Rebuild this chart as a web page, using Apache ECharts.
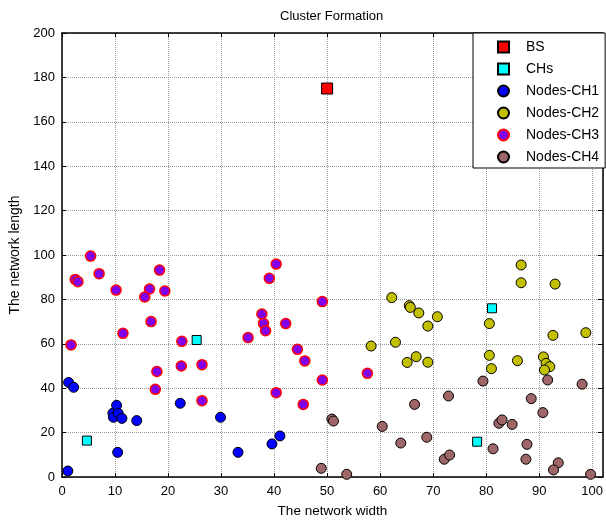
<!DOCTYPE html>
<html>
<head>
<meta charset="utf-8">
<script src="https://cdn.jsdelivr.net/npm/echarts@6/dist/echarts.min.js"></script>
<style>
html,body{margin:0;padding:0;background:#fff;}
#c{width:606px;height:523px;}
</style>
</head>
<body>
<div id="c"></div>
<script>
// ---- data ----
const titleText = 'Cluster Formation';
const xName = 'The network width';
const yName = 'The network length';
const seriesNames = ['BS', 'CHs', 'Nodes-CH1', 'Nodes-CH2', 'Nodes-CH3', 'Nodes-CH4'];

const bs = [[50, 175]];
const chs = [[4.7, 16.4], [25.4, 61.7], [81.1, 76.0], [78.3, 15.9]];
const nodesCH1 = [
  [1.1, 2.7], [1.25, 42.6], [2.2, 40.4], [9.6, 28.7], [9.7, 26.9], [10.3, 32.3],
  [10.6, 28.7], [11.3, 26.4], [10.5, 11.1], [14.1, 25.4], [22.3, 33.2], [29.9, 26.9],
  [33.2, 11.1], [39.6, 14.9], [41.1, 18.5]
];
const nodesCH2 = [
  [86.6, 95.5], [86.6, 87.5], [93.0, 86.9], [62.2, 80.8], [65.5, 77.2], [65.7, 76.4],
  [67.3, 73.9], [70.8, 72.2], [69.0, 68.0], [80.6, 69.1], [92.6, 63.8], [98.8, 65.0],
  [58.3, 59.0], [62.9, 60.7], [80.6, 54.8], [85.9, 52.4], [90.8, 54.1], [66.8, 54.2],
  [65.1, 51.6], [69.0, 51.7], [81.0, 48.8], [91.3, 51.2], [92.0, 49.7], [91.0, 48.2]
];
const nodesCH3 = [
  [5.4, 99.5], [2.5, 89.0], [3.0, 88.0], [7.0, 91.6], [10.2, 84.2], [18.4, 93.2],
  [16.5, 84.7], [15.6, 81.1], [19.4, 83.8], [16.8, 70.0], [11.5, 64.7], [1.7, 59.5],
  [22.6, 61.1], [17.9, 47.5], [22.5, 50.0], [26.4, 50.6], [17.6, 39.5], [26.4, 34.4],
  [40.4, 95.9], [39.1, 89.5], [49.1, 79.0], [37.7, 73.4], [38.0, 69.2], [38.4, 65.9],
  [42.2, 69.1], [35.1, 62.8], [44.4, 57.5], [45.8, 52.3], [49.1, 43.7], [57.6, 46.7],
  [40.4, 38.0], [45.5, 32.7]
];
const nodesCH4 = [
  [50.9, 26.1], [51.2, 25.2], [48.9, 3.9], [53.7, 1.2], [60.4, 22.8], [63.9, 15.3],
  [66.5, 32.7], [72.9, 36.5], [68.8, 17.9], [72.1, 8.0], [73.1, 9.9], [79.4, 43.2],
  [81.3, 12.7], [82.4, 24.2], [83.0, 25.7], [84.9, 23.7], [88.5, 35.3], [87.7, 14.7],
  [87.5, 8.0], [90.7, 29.0], [91.6, 43.7], [98.1, 41.8], [93.6, 6.4], [92.7, 3.2],
  [99.7, 1.2]
];
const xMin = 0, xMax = 102, xStep = 10;
const yMin = 0, yMax = 200, yStep = 20;

// ---- chart ----
const FONT = '"Liberation Sans", Arial, sans-serif';
const chart = echarts.init(document.getElementById('c'), null, {renderer: 'canvas'});

function sc(name, data, symbol, size, color, edge, edgeW, z) {
  return {
    name: name, type: 'scatter', data: data, symbol: symbol, symbolSize: size,
    xAxisIndex: 0, yAxisIndex: 0, z: z,
    itemStyle: {color: color, borderColor: edge, borderWidth: edgeW, opacity: 1},
    emphasis: {disabled: true}, animation: false
  };
}

const gridLine = {show: true, lineStyle: {color: '#9a9a9a', type: [1, 1], width: 1}};

chart.setOption({
  animation: false,
  backgroundColor: '#ffffff',
  textStyle: {fontFamily: FONT},
  graphic: [{
    type: 'text', left: 332 - 52, top: 10,
    style: {text: titleText, font: '13px ' + FONT, fill: '#000'}
  }],
  grid: {left: 60, right: 0, top: 33, bottom: 46, containLabel: false},
  xAxis: [{
    type: 'value', min: xMin, max: xMax, interval: xStep, position: 'bottom',
    name: xName, nameLocation: 'middle', nameGap: 27,
    nameTextStyle: {fontSize: 13.5, color: '#000', fontFamily: FONT},
    axisLine: {show: true, onZero: false, lineStyle: {color: '#000', width: 1.5}},
    axisTick: {show: true, inside: true, length: 4, lineStyle: {color: '#000'}},
    axisLabel: {fontSize: 13, color: '#000', margin: 8, fontFamily: FONT, showMaxLabel: false},
    splitLine: gridLine
  }, {
    type: 'value', min: xMin, max: xMax, interval: xStep, position: 'top',
    axisLine: {show: true, onZero: false, lineStyle: {color: '#000', width: 1.5}},
    axisTick: {show: true, inside: true, length: 4, lineStyle: {color: '#000'}},
    axisLabel: {show: false}, splitLine: {show: false}
  }],
  yAxis: [{
    type: 'value', min: yMin, max: yMax, interval: yStep, position: 'left',
    name: yName, nameLocation: 'middle', nameGap: 40,
    nameTextStyle: {fontSize: 14, color: '#000', fontFamily: FONT},
    axisLine: {show: true, onZero: false, lineStyle: {color: '#000', width: 1.5}},
    axisTick: {show: true, inside: true, length: 4, lineStyle: {color: '#000'}},
    axisLabel: {fontSize: 13, color: '#000', margin: 7, fontFamily: FONT},
    splitLine: gridLine
  }, {
    type: 'value', min: yMin, max: yMax, interval: yStep, position: 'right',
    axisLine: {show: true, onZero: false, lineStyle: {color: '#000', width: 1.5}},
    axisTick: {show: true, inside: true, length: 5, lineStyle: {color: '#000'}},
    axisLabel: {show: false}, splitLine: {show: false}
  }],
  legend: {
    data: seriesNames,
    orient: 'vertical', left: 473, top: 33,
    padding: [7, 6, 4, 24],
    itemWidth: 11, itemHeight: 11, itemGap: 8,
    backgroundColor: '#fff', borderColor: '#000', borderWidth: 1,
    textStyle: {fontSize: 14, color: '#000', fontFamily: FONT, padding: [0, 0, 0, 12]},
    selectedMode: false
  },
  series: [
    sc(seriesNames[0], bs, 'rect', 11, '#ff0000', '#000', 1, 3),
    sc(seriesNames[1], chs, 'rect', 9, '#00ffff', '#000', 1, 3),
    sc(seriesNames[2], nodesCH1, 'circle', 10, '#0000ff', '#000', 1, 2),
    sc(seriesNames[3], nodesCH2, 'circle', 10, '#c2c000', '#000', 1, 2),
    sc(seriesNames[4], nodesCH3, 'circle', 10, '#8000ee', '#ff0000', 1.5, 2),
    sc(seriesNames[5], nodesCH4, 'circle', 10, '#9e6666', '#000', 1, 2)
  ]
});
</script>
</body>
</html>
